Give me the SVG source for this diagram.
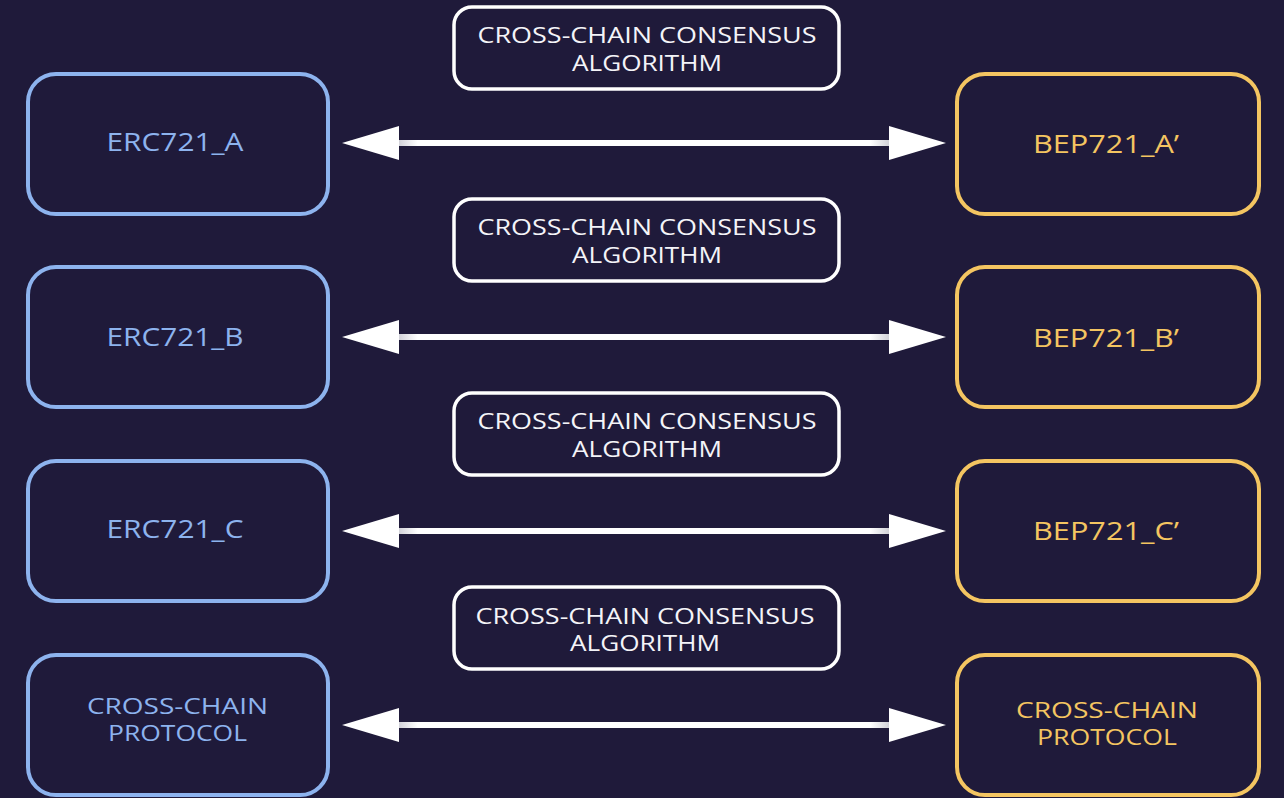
<svg xmlns="http://www.w3.org/2000/svg" width="1284" height="798" viewBox="0 0 1284 798">
  <defs>
    <style>
      .bg { fill: #1f1a3a; }
      .erc { fill: #1f1a3a; stroke: #8db3ee; stroke-width: 4; }
      .bep { fill: #1f1a3a; stroke: #f4c561; stroke-width: 4; }
      .algo { fill: #1f1a3a; stroke: #ffffff; stroke-width: 3.5; }
      .t { font-family: "Open Sans", "DejaVu Sans", sans-serif; text-anchor: middle; dominant-baseline: central; }
      .te { fill: #8db3ee; font-size: 25px; }
      .tb { fill: #f4c561; font-size: 25px; }
      .tes { fill: #8db3ee; font-size: 21px; }
      .tbs { fill: #f4c561; font-size: 21px; }
      .ta { fill: #f4f4f8; font-size: 21px; }
      .shaft { stroke: url(#shaftGrad); stroke-width: 6; fill: none; }
      .head { fill: #ffffff; }
    </style>
    <linearGradient id="shaftGrad" x1="398" y1="0" x2="890" y2="0" gradientUnits="userSpaceOnUse">
      <stop offset="0" stop-color="#cfcfd6"/>
      <stop offset="0.04" stop-color="#ffffff"/>
      <stop offset="0.96" stop-color="#ffffff"/>
      <stop offset="1" stop-color="#cfcfd6"/>
    </linearGradient>
  </defs>

  <rect class="bg" x="0" y="0" width="1284" height="798"/>

  <!-- two-way links between each chain pair -->
  <g id="connectors">
    <g id="link-a">
      <line class="shaft" x1="396" y1="143" x2="892" y2="143"/>
      <polygon class="head" points="342,143 399,126 399,160"/>
      <polygon class="head" points="946,143 889,126 889,160"/>
    </g>
    <g id="link-b">
      <line class="shaft" x1="396" y1="337" x2="892" y2="337"/>
      <polygon class="head" points="342,337 399,320 399,354"/>
      <polygon class="head" points="946,337 889,320 889,354"/>
    </g>
    <g id="link-c">
      <line class="shaft" x1="396" y1="531" x2="892" y2="531"/>
      <polygon class="head" points="342,531 399,514 399,548"/>
      <polygon class="head" points="946,531 889,514 889,548"/>
    </g>
    <g id="link-protocol">
      <line class="shaft" x1="396" y1="725" x2="892" y2="725"/>
      <polygon class="head" points="342,725 399,708 399,742"/>
      <polygon class="head" points="946,725 889,708 889,742"/>
    </g>
  </g>

  <!-- consensus labels -->
  <g id="algo-1">
    <rect class="algo" x="454" y="7" width="385" height="82" rx="18"/>
    <text class="t ta" x="647" y="35" textLength="339" lengthAdjust="spacingAndGlyphs">CROSS-CHAIN CONSENSUS</text>
    <text class="t ta" x="647" y="63" textLength="150" lengthAdjust="spacingAndGlyphs">ALGORITHM</text>
  </g>
  <g id="algo-2">
    <rect class="algo" x="454" y="199" width="385" height="82" rx="18"/>
    <text class="t ta" x="647" y="227" textLength="339" lengthAdjust="spacingAndGlyphs">CROSS-CHAIN CONSENSUS</text>
    <text class="t ta" x="647" y="255" textLength="150" lengthAdjust="spacingAndGlyphs">ALGORITHM</text>
  </g>
  <g id="algo-3">
    <rect class="algo" x="454" y="393" width="385" height="82" rx="18"/>
    <text class="t ta" x="647" y="421" textLength="339" lengthAdjust="spacingAndGlyphs">CROSS-CHAIN CONSENSUS</text>
    <text class="t ta" x="647" y="449" textLength="150" lengthAdjust="spacingAndGlyphs">ALGORITHM</text>
  </g>
  <g id="algo-4">
    <rect class="algo" x="454" y="587" width="385" height="82" rx="18"/>
    <text class="t ta" x="645" y="616" textLength="339" lengthAdjust="spacingAndGlyphs">CROSS-CHAIN CONSENSUS</text>
    <text class="t ta" x="645" y="643" textLength="150" lengthAdjust="spacingAndGlyphs">ALGORITHM</text>
  </g>

  <!-- Ethereum side -->
  <g id="erc721-a">
    <rect class="erc" x="28" y="74" width="300" height="140" rx="28"/>
    <text class="t te" x="175" y="141" textLength="137" lengthAdjust="spacingAndGlyphs">ERC721_A</text>
  </g>
  <g id="erc721-b">
    <rect class="erc" x="28" y="267" width="300" height="140" rx="28"/>
    <text class="t te" x="175" y="336" textLength="137" lengthAdjust="spacingAndGlyphs">ERC721_B</text>
  </g>
  <g id="erc721-c">
    <rect class="erc" x="28" y="461" width="300" height="140" rx="28"/>
    <text class="t te" x="175" y="528" textLength="137" lengthAdjust="spacingAndGlyphs">ERC721_C</text>
  </g>
  <g id="erc-protocol">
    <rect class="erc" x="28" y="655" width="300" height="140" rx="28"/>
    <text class="t tes" x="177.5" y="706" textLength="181" lengthAdjust="spacingAndGlyphs">CROSS-CHAIN</text>
    <text class="t tes" x="177.5" y="733" textLength="139" lengthAdjust="spacingAndGlyphs">PROTOCOL</text>
  </g>

  <!-- BNB side -->
  <g id="bep721-a">
    <rect class="bep" x="957" y="74" width="302" height="140" rx="28"/>
    <text class="t tb" x="1106" y="143" textLength="146" lengthAdjust="spacingAndGlyphs">BEP721_A’</text>
  </g>
  <g id="bep721-b">
    <rect class="bep" x="957" y="267" width="302" height="140" rx="28"/>
    <text class="t tb" x="1106" y="337" textLength="146" lengthAdjust="spacingAndGlyphs">BEP721_B’</text>
  </g>
  <g id="bep721-c">
    <rect class="bep" x="957" y="461" width="302" height="140" rx="28"/>
    <text class="t tb" x="1106" y="530" textLength="146" lengthAdjust="spacingAndGlyphs">BEP721_C’</text>
  </g>
  <g id="bep-protocol">
    <rect class="bep" x="957" y="655" width="302" height="140" rx="28"/>
    <text class="t tbs" x="1107" y="710" textLength="182" lengthAdjust="spacingAndGlyphs">CROSS-CHAIN</text>
    <text class="t tbs" x="1107" y="737" textLength="140" lengthAdjust="spacingAndGlyphs">PROTOCOL</text>
  </g>
</svg>
